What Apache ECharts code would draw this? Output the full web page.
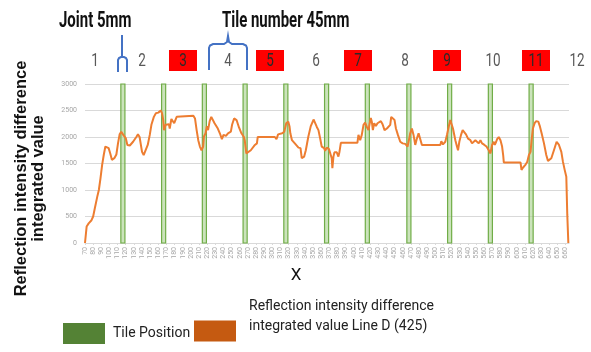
<!DOCTYPE html>
<html>
<head>
<meta charset="utf-8">
<script src="https://cdn.jsdelivr.net/npm/echarts@6/dist/echarts.min.js"></script>
<style>
  html, body { margin: 0; padding: 0; background: #fff; }
  #chart { width: 591px; height: 352px; }
</style>
</head>
<body>
<div id="chart"></div>
<script>
// joint start positions (mm), each joint is 5 mm wide
const jointStarts = [114, 164, 214, 264, 314, 364, 414, 465, 515, 565, 615]
const jointWidth = 5

// reflection intensity difference integrated value, Line D (425)
const posX = [
  70, 72, 74.5, 78, 80, 82, 85, 87, 89, 91, 93, 95, 97, 99, 101, 103, 106, 108.5, 110.5, 112.5,
  114.5, 117, 119, 120, 122, 125, 129, 133, 135, 137, 140, 142, 144, 147, 149.5, 151.5, 154.5, 157, 160, 162,
  163, 164.5, 166, 167, 169, 171, 173, 174, 176, 179.5, 181, 182.5, 183.5, 203, 205, 207, 209, 211, 213, 215,
  216, 218, 219.5, 221, 223, 225, 227, 229, 231, 233, 235.5, 238, 240, 243, 245.5, 249, 250.5, 253, 256, 259,
  262, 265, 266, 268, 270, 273.5, 275.5, 278.5, 281, 282, 303, 305, 307, 309, 312, 314.5, 317, 319.5, 321, 322,
  324, 327.5, 332, 334.5, 336, 339, 341, 344, 347, 350.5, 352.5, 354.5, 356.5, 358.5, 360.5, 363.5, 364.7, 366.7, 369.5, 371.6,
  372.8, 373.6, 374.9, 376.1, 379, 381, 382.2, 384, 404.3, 405.6, 407.7, 409.7, 411.8, 413.8, 415.9, 417.9, 419.2, 420.8, 422, 423.3,
  424.9, 427, 429, 431.1, 433.1, 435.2, 437.6, 440.5, 442.5, 444.6, 445.8, 447.9, 449.9, 451.6, 454, 456.9, 459.8, 463, 465.9, 467.9,
  469.1, 471.2, 473.2, 475.3, 477.3, 479.4, 481.4, 483.5, 506, 507.3, 509.3, 512.2, 514.2, 516.3, 518.3, 520.4, 521.6, 523.3, 524.5, 526.5,
  527.8, 529.4, 531.5, 533.5, 535.6, 537.6, 540.1, 543, 545, 547.1, 549.1, 551.2, 553.2, 555.3, 557.3, 560.2, 562.7, 565.5, 567.6, 569.6,
  571.7, 572.9, 574.6, 575.8, 577.8, 579.9, 581.9, 583.2, 584, 604.5, 605.7, 607.4, 610.7, 612.7, 614.8, 616.8, 618.1, 619.7, 621.8, 623.8,
  626.3, 628.3, 630.4, 633.3, 636.1, 638.2, 640.2, 642.3, 645.5, 648.8, 651.7, 654.6, 656.6, 658.7, 660.7, 661.9, 663.2
]
const lineD = [
  0, 310, 370, 430, 500, 650, 870, 1000, 1220, 1470, 1660, 1820, 1840, 1790, 1690, 1570, 1600, 1670, 1880, 2050,
  2100, 2040, 2050, 1980, 1850, 1840, 1910, 2000, 2050, 2000, 1720, 1660, 1690, 1850, 2040, 2230, 2380, 2450, 2460, 2480,
  2500, 2450, 2320, 2130, 2230, 2200, 2240, 2160, 2340, 2260, 2250, 2380, 2400, 2400, 2350, 2130, 1940, 1820, 1750, 1820,
  2010, 2070, 2200, 2130, 2300, 2380, 2350, 2260, 2240, 2160, 2070, 1960, 2040, 2020, 2070, 2100, 2230, 2350, 2320, 2180,
  2070, 2000, 1940, 1690, 1720, 1750, 1720, 1850, 1880, 2000, 2000, 1960, 2050, 2020, 2070, 2100, 2260, 2290, 2200, 2070,
  1940, 1880, 1800, 1790, 1600, 1630, 1750, 2000, 2200, 2330, 2260, 2190, 2130, 1980, 1820, 1790, 1740, 1800, 1770, 1770,
  1600, 1410, 1630, 1710, 1710, 1630, 1710, 1890, 1890, 2040, 1940, 2040, 2230, 2270, 2190, 2130, 2240, 2360, 2290, 2130,
  2260, 2210, 2260, 2230, 2300, 2240, 2130, 2160, 2190, 2230, 2380, 2350, 2320, 2160, 2040, 1910, 1880, 1870, 1820, 1970,
  2070, 2160, 2040, 1850, 1970, 2070, 2100, 1850, 1850, 1920, 1860, 1910, 2040, 2190, 2320, 2290, 2160, 2190, 1940, 1820,
  1750, 1910, 2040, 2130, 2160, 2050, 1970, 1940, 1880, 1910, 1940, 1910, 1880, 1940, 1880, 1850, 1820, 1750, 1690, 1850,
  1910, 1850, 1910, 1960, 2000, 1940, 1820, 1660, 1520, 1520, 1380, 1420, 1480, 1530, 1660, 1720, 1940, 2160, 2260, 2300,
  2290, 2200, 2070, 1880, 1660, 1550, 1520, 1600, 1750, 1910, 1850, 1720, 1530, 1380, 1250, 530, 0
]

const yTicks = [0, 500, 1000, 1500, 2000, 2500, 3000]
const tileLabels = ['1', '2', '3', '4', '5', '6', '7', '8', '9', '10', '11', '12']

const chart = echarts.init(document.getElementById('chart'))

// tile number annotations above the plot
const tileX = [95, 142, 183, 228, 270, 316, 358, 405, 447, 493, 536, 577]
const graphics = []
tileLabels.forEach((t, i) => {
  const red = i % 2 === 0 && i > 0 && i < 11
  if (red) {
    graphics.push({
      type: 'rect',
      shape: { x: tileX[i] - 14, y: 50, width: 28, height: 21 },
      style: { fill: '#ff0000' }
    })
  }
  graphics.push({
    type: 'text',
    x: tileX[i], y: 61,
    scaleX: 0.75,
    style: {
      text: t, align: 'center', verticalAlign: 'middle',
      fontSize: 18, fontFamily: 'Roboto', fill: red ? '#2a2a2a' : '#595959'
    }
  })
})
graphics.push(
  { type: 'text', x: 59, y: 21, scaleX: 0.68, style: { text: 'Joint 5mm', verticalAlign: 'middle', fontSize: 22, fontWeight: 'bold', fontFamily: 'Roboto', fill: '#111' } },
  { type: 'text', x: 222, y: 21, scaleX: 0.68, style: { text: 'Tile number 45mm', verticalAlign: 'middle', fontSize: 22, fontWeight: 'bold', fontFamily: 'Roboto', fill: '#111' } },
  {
    type: 'polyline',
    shape: { points: [[122, 35], [122, 57]] },
    style: { stroke: '#4472c4', lineWidth: 2 }
  },
  {
    type: 'polyline',
    shape: { points: [[118, 72], [118, 60], [119, 58], [121, 57], [124, 57], [126, 58], [127, 60], [127, 72]] },
    style: { stroke: '#4472c4', lineWidth: 2 }
  },
  {
    type: 'polyline',
    shape: { points: [[209, 70], [209, 48], [210, 45.5], [213, 44], [224, 44], [227, 42], [228, 36], [229, 42], [232, 44], [243, 44], [246, 45.5], [247, 48], [247, 70]] },
    style: { stroke: '#4472c4', lineWidth: 2 }
  }
)

const option = {
  animation: false,
  grid: { left: 85, right: 22, top: 84, bottom: 109 },
  legend: [
    {
      left: 63,
      top: 323,
      padding: 0,
      itemWidth: 42,
      itemHeight: 21,
      icon: 'rect',
      textStyle: { fontFamily: 'Roboto', fontSize: 14, color: '#222', padding: [0, 0, 0, 3] },
      data: [{ name: 'Tile Position', itemStyle: { color: '#548235' } }]
    },
    {
      left: 194,
      top: 299,
      padding: 0,
      itemWidth: 42,
      itemHeight: 21,
      icon: 'rect',
      textStyle: {
        fontFamily: 'Roboto', fontSize: 14, color: '#222', padding: [0, 0, 0, 8],
        rich: {
          a: { fontFamily: 'Roboto', fontSize: 14, color: '#222', lineHeight: 20 },
          b: { fontSize: 14, lineHeight: 30 }
        }
      },
      data: [{ name: 'Line D (425)', itemStyle: { color: '#c55a11' } }],
      formatter: () => '{a|Reflection intensity difference}\n{a|integrated value Line D (425)}\n{b| }'
    }
  ],
  xAxis: {
    type: 'value',
    min: 70,
    max: 664,
    interval: 10,
    name: 'X',
    nameLocation: 'middle',
    nameGap: 24,
    nameTextStyle: { fontFamily: 'Roboto', fontSize: 17, color: '#111', padding: [0, 62, 0, 0] },
    axisLine: { lineStyle: { color: '#d9d9d9' } },
    axisTick: { show: true, length: 2, lineStyle: { color: '#d9d9d9' } },
    splitLine: { show: false },
    axisLabel: {
      rotate: 90, fontSize: 7, color: '#a6a6a6', margin: 4,
      showMaxLabel: false, fontFamily: 'Roboto'
    }
  },
  yAxis: {
    type: 'value',
    min: yTicks[0],
    max: yTicks[yTicks.length - 1],
    interval: 500,
    name: 'Reflection intensity difference\nintegrated value',
    nameLocation: 'middle',
    nameRotate: 90,
    nameGap: 38,
    nameTextStyle: {
      fontFamily: 'Liberation Sans, Arial, sans-serif', fontWeight: 'bold', fontSize: 16.5,
      color: '#111', lineHeight: 17, padding: [0, 30, 0, 0]
    },
    axisLine: { show: false },
    axisTick: { show: false },
    splitLine: { lineStyle: { color: '#d9d9d9' } },
    axisLabel: { fontSize: 7, color: '#a6a6a6', margin: 8, fontFamily: 'Roboto', formatter: v => String(v) }
  },
  series: [
    {
      name: 'Tile Position',
      type: 'line',
      data: [],
      itemStyle: { color: '#548235' },
      markArea: {
        silent: true,
        itemStyle: { color: 'rgba(169, 208, 142, 0.6)', borderColor: '#70ad47', borderWidth: 1.2 },
        data: jointStarts.map(s => [{ xAxis: s }, { xAxis: s + jointWidth }])
      }
    },
    {
      name: 'Line D (425)',
      type: 'line',
      data: posX.map((x, i) => [x, lineD[i]]),
      showSymbol: false,
      lineStyle: { color: '#ed7d31', width: 2 },
      itemStyle: { color: '#ed7d31' },
      z: 3
    }
  ],
  graphic: graphics
}

chart.setOption(option)
</script>
</body>
</html>
